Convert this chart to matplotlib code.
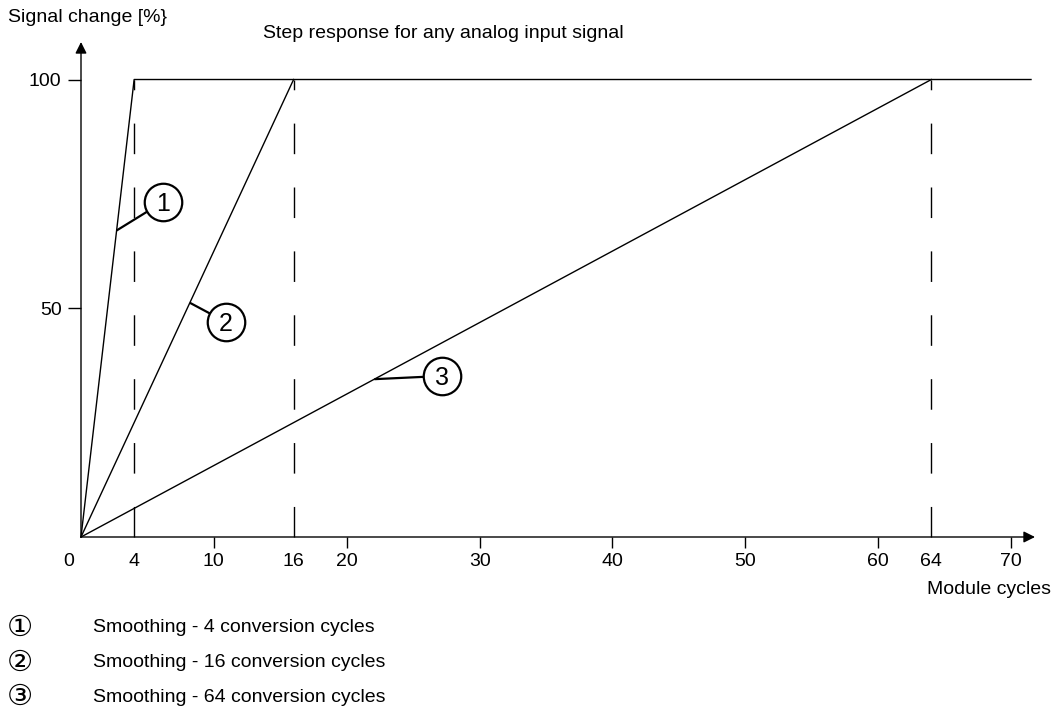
import numpy as np
import matplotlib
matplotlib.use("Agg")
import matplotlib.pyplot as plt

plt.rcParams['font.family'] = ['Liberation Sans', 'DejaVu Sans']

# step response curves: cycles needed to reach 100 %
smoothing = [4, 16, 64]
x_end = 71.5
labels = ["Smoothing - 4 conversion cycles",
          "Smoothing - 16 conversion cycles",
          "Smoothing - 64 conversion cycles"]
marks = ["1", "2", "3"]
legend_marks = ["\u2460", "\u2461", "\u2462"]

# callouts: fraction along each ramp where the leader touches, circle centre
leader_t = [0.67, 0.512, 0.345]
circle_xy = [(6.2, 73.3), (10.9, 47.0), (27.2, 35.2)]

x_major = [10, 20, 30, 40, 50, 60, 70]
x_minor = [4, 16, 64]
y_ticks = [50, 100]

fs = 14

fig = plt.figure(figsize=(10.61, 7.26), dpi=100)
ax = fig.add_axes([81 / 1061, 189 / 726, 954 / 1061, 495 / 726])
ax.set_xlim(0, 71.8)
ax.set_ylim(0, 108.2)
for s in ax.spines.values():
    s.set_visible(False)

# axis arrows
ax.annotate('', xy=(1, 0), xytext=(0, 0), xycoords='axes fraction',
            arrowprops=dict(arrowstyle='-|>', color='black', lw=1, mutation_scale=17,
                            shrinkA=0, shrinkB=0))
ax.annotate('', xy=(0, 1), xytext=(0, 0), xycoords='axes fraction',
            arrowprops=dict(arrowstyle='-|>', color='black', lw=1, mutation_scale=17,
                            shrinkA=0, shrinkB=0))

# ramps
ax.plot([0, smoothing[0], x_end], [0, 100, 100], color='black', lw=1, clip_on=False)
for n in smoothing[1:]:
    ax.plot([0, n], [0, 100], color='black', lw=1, clip_on=False)

# dashed markers at the end of each ramp
for n in smoothing:
    ax.plot([n, n], [0, 100], color='black', lw=1, dashes=(22, 24), clip_on=False)

# callouts
for n, t, (cx, cy), m in zip(smoothing, leader_t, circle_xy, marks):
    ax.plot([n * t, cx], [100 * t, cy], color='black', lw=1.6, zorder=4,
            solid_capstyle='butt')
    ax.plot(cx, cy, marker='o', markersize=27, markerfacecolor='white',
            markeredgecolor='black', markeredgewidth=1.6, zorder=5, clip_on=False)
    ax.text(cx, cy, m, fontsize=18, ha='center', va='center_baseline', zorder=6)

# ticks
ax.set_xticks(x_major)
ax.set_xticks(x_minor, minor=True)
ax.set_xticklabels([str(v) for v in x_major], fontsize=fs)
ax.set_xticklabels([str(v) for v in x_minor], minor=True, fontsize=fs)
ax.tick_params(axis='x', which='major', direction='out', length=8, width=1, pad=3.5)
ax.tick_params(axis='x', which='minor', length=0, pad=11.5)
ax.set_yticks(y_ticks)
ax.set_yticklabels([str(v) for v in y_ticks], fontsize=fs)
ax.tick_params(axis='y', direction='out', length=9.5, width=1, pad=4.5)
ax.annotate('0', xy=(0, 0), xytext=(-8.6, -11.5), textcoords='offset points',
            ha='center', va='top', fontsize=fs)

# texts
fig.text(8 / 1061, 1 - 17 / 726, "Signal change [%}", fontsize=fs, va='center', ha='left')
fig.text(263 / 1061, 1 - 33 / 726, "Step response for any analog input signal",
         fontsize=fs, va='center', ha='left')
fig.text(1051 / 1061, 1 - 589 / 726, "Module cycles", fontsize=fs, va='center', ha='right')

for i, (lm, lab) in enumerate(zip(legend_marks, labels)):
    y = 1 - (628 + 34.5 * i) / 726
    fig.text(20 / 1061, y, lm, fontsize=21, va='center', ha='center',
             family=['DejaVu Sans'])
    fig.text(93 / 1061, y, lab, fontsize=fs, va='center', ha='left')

fig.savefig("out.png", dpi=100)
